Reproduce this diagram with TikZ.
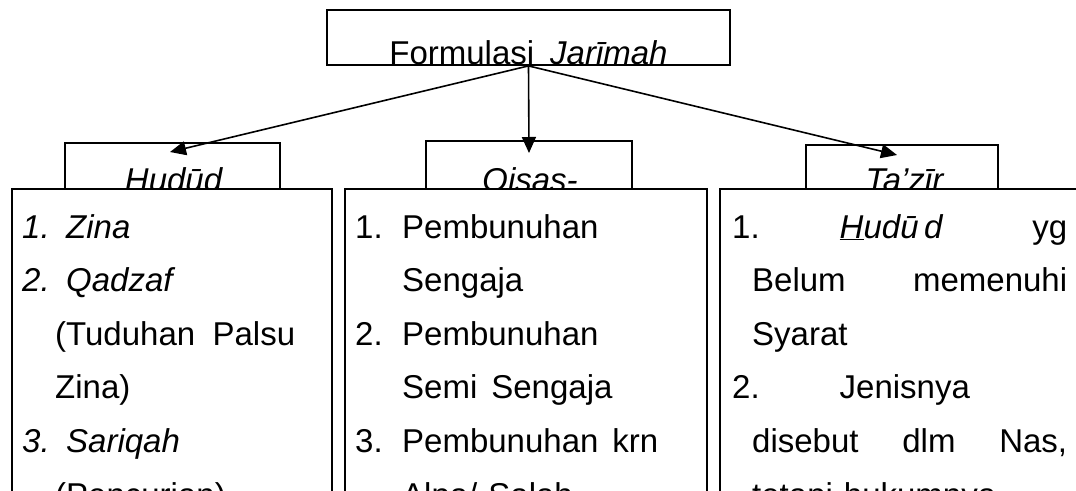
\documentclass[tikz,border=0pt]{standalone}
\usepackage{fontspec}
\setmainfont{Liberation Sans}
\usetikzlibrary{arrows.meta}
\tikzset{headbox/.style={
    draw, line width=1.8pt, inner sep=0pt,
    minimum width=403pt, minimum height=55pt
  },
  groupbox/.style={
    draw, line width=1.8pt, inner sep=0pt, anchor=north west,
    minimum height=60pt
  },
  listbox/.style={
    draw, fill=white, line width=1.8pt, inner sep=0pt, anchor=north west,
    minimum height=330pt
  },
  listtext/.style={
    anchor=base west, inner sep=0pt, text width=#1, align=left
  },
  connector/.style={
    line width=1.6pt, -{Triangle[length=16pt,width=14pt]}
  }
}

\begin{document}
\begin{tikzpicture}[x=1pt,y=-1pt,font=\fontsize{33}{53.6}\selectfont]
      \clip (0,0) rectangle (1076,490);
      \fill[white] (0,0) rectangle (1076,490);
      % three groups
      \node[groupbox, minimum width=215pt] (hudud) at (64,142) {};
      \node[groupbox, minimum width=206pt] (qisas) at (425,140) {};
      \node[groupbox, minimum width=192pt] (tazir) at (805,144) {};
      \node[anchor=base] (hududname) at (174,191) {\textit{Hudūd}};
      \node[anchor=base] (qisasname) at (530,191) {\textit{Qisas-}};
      \node[anchor=base] (tazirname) at (905,191) {\textit{Ta’zīr}};
      % lists
      \node[listbox, minimum width=320pt] (hududlist) at (11,188) {};
      \node[listbox, minimum width=362pt] (qisaslist) at (344,188) {};
      \node[listbox, minimum width=380pt] (tazirlist) at (719,188) {};
      \node[listtext=273pt] (hududitems) at (22,238) {%
        \textit{1. Zina}\\
        \textit{2. Qadzaf}\\
        \hspace*{33pt}(Tuduhan\hfill Palsu\\
        \hspace*{33pt}Zina)\\
        \textit{3. Sariqah}\\
        \hspace*{33pt}(Pencurian)};
      \node[listtext=303pt] (qisasitems) at (355,238) {%
        \makebox[47pt][l]{1.}Pembunuhan\\
        \hspace*{47pt}Sengaja\\
        \makebox[47pt][l]{2.}Pembunuhan\\
        \hspace*{47pt}Semi\hspace{14pt}Sengaja\\
        \makebox[47pt][l]{3.}Pembunuhan\hfill krn\\
        \hspace*{47pt}Alpa/ Salah};
      \node[listtext=335pt] (taziritems) at (732,238) {%
        1.\hspace{80pt}\textit{\underline{H}udū\,d}\hfill yg\\
        \hspace*{20pt}Belum\hfill memenuhi\\
        \hspace*{20pt}Syarat\\
        2.\hspace{80pt}Jenisnya\\
        \hspace*{20pt}disebut\hfill dlm\hfill Nas,\\
        \hspace*{20pt}tetapi hukumnya};
      % heading
      \node[headbox] (jarimah) at (528.5,37.5) {};
      \begin{scope}
        \clip (jarimah.south west) rectangle (jarimah.north east);
        \node[anchor=base] (jarimahname) at (528.5,64) {Formulasi\hspace{16pt}\textit{Jarīmah}};
      \end{scope}
      \coordinate (hududtip) at (170,152);
      \coordinate (qisastip) at (529,153);
      \coordinate (tazirtip) at (897,155);
      \draw[connector] (jarimah.south) -- (hududtip);
      \draw[connector] (jarimah.south) -- (qisastip);
      \draw[connector] (jarimah.south) -- (tazirtip);
    \end{tikzpicture}
\end{document}
